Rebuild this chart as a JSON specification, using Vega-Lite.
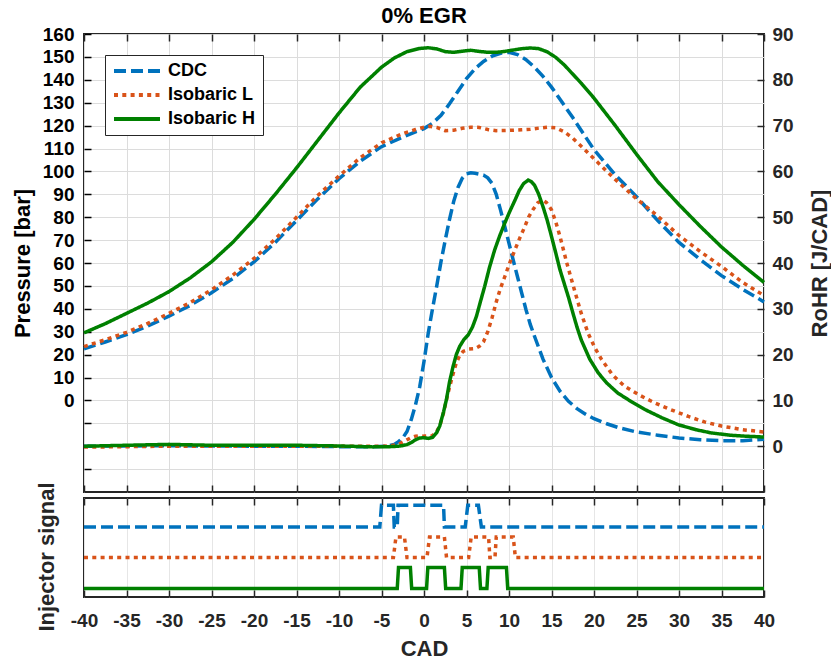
{
"$schema": "https://vega.github.io/schema/vega-lite/v6.json",
"padding": {"left": 10, "top": 5, "right": 0, "bottom": 0},
"background": "white",
"title": {"text": "0% EGR", "fontSize": 22, "font": "Liberation Sans", "fontWeight": "bold", "color": "#000000", "anchor": "middle", "frame": "group", "offset": -4},
"datasets": {
"pressure": [
{"s":"CDC","x":-40,"y":22.5},{"s":"CDC","x":-37.5,"y":25.5},{"s":"CDC","x":-35,"y":28.7},{"s":"CDC","x":-32.5,"y":32.5},{"s":"CDC","x":-30,"y":36.8},{"s":"CDC","x":-27.5,"y":41.5},{"s":"CDC","x":-25,"y":47},{"s":"CDC","x":-22.5,"y":53.2},{"s":"CDC","x":-20,"y":60.5},{"s":"CDC","x":-17.5,"y":69},{"s":"CDC","x":-15,"y":78.5},{"s":"CDC","x":-12.5,"y":88},{"s":"CDC","x":-10,"y":96.8},{"s":"CDC","x":-7.5,"y":104.5},{"s":"CDC","x":-5,"y":110.8},{"s":"CDC","x":-2.5,"y":115},{"s":"CDC","x":-1,"y":117.3},{"s":"CDC","x":0,"y":118.7},{"s":"CDC","x":1,"y":121},{"s":"CDC","x":2,"y":124.5},{"s":"CDC","x":3,"y":129.5},{"s":"CDC","x":4,"y":135},{"s":"CDC","x":5,"y":140.5},{"s":"CDC","x":6,"y":144.8},{"s":"CDC","x":7,"y":148},{"s":"CDC","x":8,"y":150.3},{"s":"CDC","x":9,"y":151.6},{"s":"CDC","x":10,"y":152},{"s":"CDC","x":11,"y":151},{"s":"CDC","x":12,"y":148.8},{"s":"CDC","x":13,"y":145.5},{"s":"CDC","x":14,"y":141.5},{"s":"CDC","x":15,"y":136.8},{"s":"CDC","x":16,"y":131.5},{"s":"CDC","x":17.5,"y":123.5},{"s":"CDC","x":20,"y":109.5},{"s":"CDC","x":22.5,"y":98.5},{"s":"CDC","x":25,"y":89},{"s":"CDC","x":27.5,"y":78.5},{"s":"CDC","x":30,"y":69},{"s":"CDC","x":32.5,"y":61.5},{"s":"CDC","x":35,"y":54.5},{"s":"CDC","x":37.5,"y":48.5},{"s":"CDC","x":40,"y":43},
{"s":"Isobaric L","x":-40,"y":23.5},{"s":"Isobaric L","x":-37.5,"y":26.5},{"s":"Isobaric L","x":-35,"y":29.7},{"s":"Isobaric L","x":-32.5,"y":33.6},{"s":"Isobaric L","x":-30,"y":38},{"s":"Isobaric L","x":-27.5,"y":42.7},{"s":"Isobaric L","x":-25,"y":48.3},{"s":"Isobaric L","x":-22.5,"y":54.7},{"s":"Isobaric L","x":-20,"y":62},{"s":"Isobaric L","x":-17.5,"y":70.5},{"s":"Isobaric L","x":-15,"y":80},{"s":"Isobaric L","x":-12.5,"y":89.5},{"s":"Isobaric L","x":-10,"y":98},{"s":"Isobaric L","x":-7.5,"y":106},{"s":"Isobaric L","x":-5,"y":112.5},{"s":"Isobaric L","x":-2.5,"y":116.5},{"s":"Isobaric L","x":-1,"y":118.3},{"s":"Isobaric L","x":0,"y":119.3},{"s":"Isobaric L","x":0.7,"y":119.7},{"s":"Isobaric L","x":1.5,"y":119.2},{"s":"Isobaric L","x":2.5,"y":117.8},{"s":"Isobaric L","x":3.5,"y":118},{"s":"Isobaric L","x":4.5,"y":118.8},{"s":"Isobaric L","x":5.5,"y":119.3},{"s":"Isobaric L","x":6.5,"y":119.2},{"s":"Isobaric L","x":7.5,"y":118.3},{"s":"Isobaric L","x":8.5,"y":117.8},{"s":"Isobaric L","x":10,"y":117.9},{"s":"Isobaric L","x":11.5,"y":118.2},{"s":"Isobaric L","x":12.5,"y":118.4},{"s":"Isobaric L","x":13.5,"y":118.9},{"s":"Isobaric L","x":14.5,"y":119.3},{"s":"Isobaric L","x":15.5,"y":119},{"s":"Isobaric L","x":16.5,"y":117.3},{"s":"Isobaric L","x":17.5,"y":114.5},{"s":"Isobaric L","x":18.5,"y":111},{"s":"Isobaric L","x":20,"y":105.5},{"s":"Isobaric L","x":22.5,"y":96.5},{"s":"Isobaric L","x":25,"y":88},{"s":"Isobaric L","x":27.5,"y":80.5},{"s":"Isobaric L","x":30,"y":72},{"s":"Isobaric L","x":32.5,"y":65},{"s":"Isobaric L","x":35,"y":58.5},{"s":"Isobaric L","x":37.5,"y":51.5},{"s":"Isobaric L","x":40,"y":45.8},
{"s":"Isobaric H","x":-40,"y":29.5},{"s":"Isobaric H","x":-37.5,"y":33.5},{"s":"Isobaric H","x":-35,"y":38},{"s":"Isobaric H","x":-32.5,"y":42.5},{"s":"Isobaric H","x":-30,"y":47.5},{"s":"Isobaric H","x":-27.5,"y":53.5},{"s":"Isobaric H","x":-25,"y":60.5},{"s":"Isobaric H","x":-22.5,"y":69},{"s":"Isobaric H","x":-20,"y":79},{"s":"Isobaric H","x":-17.5,"y":90},{"s":"Isobaric H","x":-15,"y":101.5},{"s":"Isobaric H","x":-12.5,"y":113.5},{"s":"Isobaric H","x":-10,"y":125.5},{"s":"Isobaric H","x":-7.5,"y":136.8},{"s":"Isobaric H","x":-5,"y":145.5},{"s":"Isobaric H","x":-3.5,"y":149.5},{"s":"Isobaric H","x":-2,"y":152.3},{"s":"Isobaric H","x":-0.5,"y":153.7},{"s":"Isobaric H","x":0.5,"y":154},{"s":"Isobaric H","x":1.5,"y":153.5},{"s":"Isobaric H","x":2.5,"y":152.3},{"s":"Isobaric H","x":3.5,"y":152},{"s":"Isobaric H","x":4.5,"y":152.5},{"s":"Isobaric H","x":5.5,"y":152.9},{"s":"Isobaric H","x":6.5,"y":152.4},{"s":"Isobaric H","x":7.5,"y":152},{"s":"Isobaric H","x":8.5,"y":152},{"s":"Isobaric H","x":9.5,"y":152.4},{"s":"Isobaric H","x":10.5,"y":153},{"s":"Isobaric H","x":11.5,"y":153.6},{"s":"Isobaric H","x":12.5,"y":153.9},{"s":"Isobaric H","x":13.5,"y":153.6},{"s":"Isobaric H","x":14.5,"y":152.2},{"s":"Isobaric H","x":15.5,"y":149.8},{"s":"Isobaric H","x":16.5,"y":146.5},{"s":"Isobaric H","x":17.5,"y":142.5},{"s":"Isobaric H","x":18.5,"y":138.5},{"s":"Isobaric H","x":20,"y":132},{"s":"Isobaric H","x":22.5,"y":120},{"s":"Isobaric H","x":25,"y":107.5},{"s":"Isobaric H","x":27.5,"y":95.5},{"s":"Isobaric H","x":30,"y":85.5},{"s":"Isobaric H","x":32.5,"y":76},{"s":"Isobaric H","x":35,"y":67},{"s":"Isobaric H","x":37.5,"y":59},{"s":"Isobaric H","x":40,"y":51.5}
],
"rohr": [
{"s":"CDC","x":-40,"y":0},{"s":"CDC","x":-35,"y":0.05},{"s":"CDC","x":-30,"y":0.1},{"s":"CDC","x":-25,"y":0.05},{"s":"CDC","x":-20,"y":0},{"s":"CDC","x":-15,"y":0},{"s":"CDC","x":-10,"y":-0.1},{"s":"CDC","x":-6,"y":-0.1},{"s":"CDC","x":-4.5,"y":0},{"s":"CDC","x":-4,"y":0.15},{"s":"CDC","x":-3.5,"y":0.4},{"s":"CDC","x":-3,"y":1},{"s":"CDC","x":-2.5,"y":1.8},{"s":"CDC","x":-2,"y":3.2},{"s":"CDC","x":-1.5,"y":5.8},{"s":"CDC","x":-1,"y":9},{"s":"CDC","x":-0.5,"y":13},{"s":"CDC","x":0,"y":18.5},{"s":"CDC","x":0.5,"y":24.7},{"s":"CDC","x":1,"y":30},{"s":"CDC","x":1.5,"y":35},{"s":"CDC","x":2,"y":40.3},{"s":"CDC","x":2.5,"y":45},{"s":"CDC","x":3,"y":49.5},{"s":"CDC","x":3.5,"y":53.5},{"s":"CDC","x":4,"y":56.5},{"s":"CDC","x":4.5,"y":58.5},{"s":"CDC","x":5,"y":59.5},{"s":"CDC","x":5.5,"y":59.7},{"s":"CDC","x":6,"y":59.6},{"s":"CDC","x":6.5,"y":59.4},{"s":"CDC","x":7,"y":59.2},{"s":"CDC","x":7.5,"y":58.6},{"s":"CDC","x":8,"y":57.4},{"s":"CDC","x":8.5,"y":55},{"s":"CDC","x":9,"y":51.6},{"s":"CDC","x":9.5,"y":48},{"s":"CDC","x":10,"y":44.3},{"s":"CDC","x":10.5,"y":40.6},{"s":"CDC","x":11,"y":37},{"s":"CDC","x":11.5,"y":33.4},{"s":"CDC","x":12,"y":29.8},{"s":"CDC","x":12.5,"y":26.6},{"s":"CDC","x":13,"y":24},{"s":"CDC","x":14,"y":19},{"s":"CDC","x":15,"y":15},{"s":"CDC","x":16,"y":12},{"s":"CDC","x":17,"y":9.8},{"s":"CDC","x":18,"y":8.2},{"s":"CDC","x":19,"y":7},{"s":"CDC","x":20,"y":6},{"s":"CDC","x":21.5,"y":4.9},{"s":"CDC","x":23,"y":4},{"s":"CDC","x":25,"y":3.1},{"s":"CDC","x":27.5,"y":2.4},{"s":"CDC","x":30,"y":1.8},{"s":"CDC","x":32.5,"y":1.4},{"s":"CDC","x":35,"y":1.2},{"s":"CDC","x":37.5,"y":1.2},{"s":"CDC","x":40,"y":1.5},
{"s":"Isobaric L","x":-40,"y":-0.2},{"s":"Isobaric L","x":-35,"y":-0.1},{"s":"Isobaric L","x":-30,"y":0},{"s":"Isobaric L","x":-25,"y":0},{"s":"Isobaric L","x":-20,"y":0},{"s":"Isobaric L","x":-15,"y":0},{"s":"Isobaric L","x":-10,"y":0},{"s":"Isobaric L","x":-5,"y":0},{"s":"Isobaric L","x":-4,"y":0.05},{"s":"Isobaric L","x":-3,"y":0.4},{"s":"Isobaric L","x":-2.5,"y":0.9},{"s":"Isobaric L","x":-2,"y":1.4},{"s":"Isobaric L","x":-1.5,"y":1.9},{"s":"Isobaric L","x":-1,"y":2.2},{"s":"Isobaric L","x":-0.5,"y":2.3},{"s":"Isobaric L","x":0,"y":2.2},{"s":"Isobaric L","x":0.9,"y":2.2},{"s":"Isobaric L","x":1.4,"y":2.9},{"s":"Isobaric L","x":1.85,"y":4.4},{"s":"Isobaric L","x":2.3,"y":7.3},{"s":"Isobaric L","x":2.8,"y":11.4},{"s":"Isobaric L","x":3.3,"y":15},{"s":"Isobaric L","x":3.8,"y":18.2},{"s":"Isobaric L","x":4.2,"y":19.8},{"s":"Isobaric L","x":4.6,"y":20.7},{"s":"Isobaric L","x":5.3,"y":21.2},{"s":"Isobaric L","x":6,"y":21.3},{"s":"Isobaric L","x":6.5,"y":21.8},{"s":"Isobaric L","x":7,"y":22.8},{"s":"Isobaric L","x":7.5,"y":25},{"s":"Isobaric L","x":8,"y":28},{"s":"Isobaric L","x":8.5,"y":31.5},{"s":"Isobaric L","x":9,"y":34.5},{"s":"Isobaric L","x":9.5,"y":37},{"s":"Isobaric L","x":10,"y":39.6},{"s":"Isobaric L","x":10.7,"y":42.9},{"s":"Isobaric L","x":11.3,"y":45.6},{"s":"Isobaric L","x":11.85,"y":47.9},{"s":"Isobaric L","x":12.3,"y":50},{"s":"Isobaric L","x":12.8,"y":51.6},{"s":"Isobaric L","x":13.4,"y":53.2},{"s":"Isobaric L","x":14,"y":53.7},{"s":"Isobaric L","x":14.4,"y":53.2},{"s":"Isobaric L","x":15,"y":51.6},{"s":"Isobaric L","x":15.5,"y":49},{"s":"Isobaric L","x":16,"y":45.8},{"s":"Isobaric L","x":16.8,"y":40},{"s":"Isobaric L","x":17.7,"y":34.1},{"s":"Isobaric L","x":18.5,"y":29},{"s":"Isobaric L","x":19.3,"y":24.7},{"s":"Isobaric L","x":20.1,"y":21.5},{"s":"Isobaric L","x":20.9,"y":18.9},{"s":"Isobaric L","x":22.2,"y":15.5},{"s":"Isobaric L","x":23.6,"y":13.1},{"s":"Isobaric L","x":25.5,"y":11},{"s":"Isobaric L","x":27.1,"y":9.5},{"s":"Isobaric L","x":29,"y":8},{"s":"Isobaric L","x":31.1,"y":6.5},{"s":"Isobaric L","x":33,"y":5.3},{"s":"Isobaric L","x":35,"y":4.4},{"s":"Isobaric L","x":37.5,"y":3.6},{"s":"Isobaric L","x":40,"y":3.1},
{"s":"Isobaric H","x":-40,"y":0},{"s":"Isobaric H","x":-35,"y":0.2},{"s":"Isobaric H","x":-30,"y":0.4},{"s":"Isobaric H","x":-25,"y":0.2},{"s":"Isobaric H","x":-20,"y":0.2},{"s":"Isobaric H","x":-15,"y":0.2},{"s":"Isobaric H","x":-10,"y":0.05},{"s":"Isobaric H","x":-6,"y":-0.15},{"s":"Isobaric H","x":-4,"y":-0.1},{"s":"Isobaric H","x":-3,"y":0},{"s":"Isobaric H","x":-2.5,"y":0.15},{"s":"Isobaric H","x":-2,"y":0.35},{"s":"Isobaric H","x":-1.5,"y":0.8},{"s":"Isobaric H","x":-1,"y":1.4},{"s":"Isobaric H","x":-0.5,"y":1.8},{"s":"Isobaric H","x":0,"y":1.85},{"s":"Isobaric H","x":0.5,"y":1.7},{"s":"Isobaric H","x":1,"y":1.9},{"s":"Isobaric H","x":1.5,"y":3},{"s":"Isobaric H","x":1.85,"y":4.4},{"s":"Isobaric H","x":2.3,"y":7.5},{"s":"Isobaric H","x":2.64,"y":10.2},{"s":"Isobaric H","x":3,"y":14},{"s":"Isobaric H","x":3.42,"y":17.4},{"s":"Isobaric H","x":3.8,"y":20},{"s":"Isobaric H","x":4.2,"y":21.8},{"s":"Isobaric H","x":4.7,"y":23.3},{"s":"Isobaric H","x":5.2,"y":24.3},{"s":"Isobaric H","x":5.7,"y":26},{"s":"Isobaric H","x":6.16,"y":28.3},{"s":"Isobaric H","x":6.6,"y":31.3},{"s":"Isobaric H","x":7.14,"y":34.9},{"s":"Isobaric H","x":7.7,"y":39},{"s":"Isobaric H","x":8.32,"y":42.9},{"s":"Isobaric H","x":8.9,"y":45.9},{"s":"Isobaric H","x":9.5,"y":48.7},{"s":"Isobaric H","x":10.1,"y":51.3},{"s":"Isobaric H","x":10.7,"y":53.7},{"s":"Isobaric H","x":11.2,"y":55.8},{"s":"Isobaric H","x":11.7,"y":57.3},{"s":"Isobaric H","x":12.25,"y":58.1},{"s":"Isobaric H","x":12.6,"y":57.8},{"s":"Isobaric H","x":13,"y":57},{"s":"Isobaric H","x":13.5,"y":55},{"s":"Isobaric H","x":14,"y":52.3},{"s":"Isobaric H","x":14.5,"y":49.3},{"s":"Isobaric H","x":15,"y":45.8},{"s":"Isobaric H","x":15.5,"y":42.2},{"s":"Isobaric H","x":16,"y":38.5},{"s":"Isobaric H","x":16.5,"y":35.5},{"s":"Isobaric H","x":17,"y":32.5},{"s":"Isobaric H","x":17.5,"y":29.2},{"s":"Isobaric H","x":18,"y":26},{"s":"Isobaric H","x":18.5,"y":23.2},{"s":"Isobaric H","x":19.5,"y":19},{"s":"Isobaric H","x":20.5,"y":16},{"s":"Isobaric H","x":21.5,"y":13.8},{"s":"Isobaric H","x":22.8,"y":11.6},{"s":"Isobaric H","x":24.5,"y":9.6},{"s":"Isobaric H","x":26,"y":8},{"s":"Isobaric H","x":28,"y":6.2},{"s":"Isobaric H","x":29.9,"y":4.7},{"s":"Isobaric H","x":32,"y":3.6},{"s":"Isobaric H","x":33.8,"y":2.9},{"s":"Isobaric H","x":36,"y":2.4},{"s":"Isobaric H","x":37.7,"y":2.2},{"s":"Isobaric H","x":40,"y":2.0}
],
"inj": [
{"s":"CDC","x":-40,"y":0.707},{"s":"CDC","x":-5.2,"y":0.707},{"s":"CDC","x":-5.0,"y":0.926},{"s":"CDC","x":-3.6,"y":0.926},{"s":"CDC","x":-3.5,"y":0.707},{"s":"CDC","x":-3.15,"y":0.707},{"s":"CDC","x":-3.05,"y":0.926},{"s":"CDC","x":2.3,"y":0.926},{"s":"CDC","x":2.4,"y":0.707},{"s":"CDC","x":4.85,"y":0.707},{"s":"CDC","x":5.15,"y":0.926},{"s":"CDC","x":6.4,"y":0.926},{"s":"CDC","x":6.75,"y":0.707},{"s":"CDC","x":40,"y":0.707},
{"s":"Isobaric L","x":-40,"y":0.398},{"s":"Isobaric L","x":-3.6,"y":0.398},{"s":"Isobaric L","x":-3.3,"y":0.606},{"s":"Isobaric L","x":-2.3,"y":0.606},{"s":"Isobaric L","x":-2.0,"y":0.398},{"s":"Isobaric L","x":0.35,"y":0.398},{"s":"Isobaric L","x":0.65,"y":0.606},{"s":"Isobaric L","x":2.4,"y":0.606},{"s":"Isobaric L","x":2.65,"y":0.398},{"s":"Isobaric L","x":5.25,"y":0.398},{"s":"Isobaric L","x":5.55,"y":0.606},{"s":"Isobaric L","x":7.6,"y":0.606},{"s":"Isobaric L","x":7.75,"y":0.398},{"s":"Isobaric L","x":8.35,"y":0.398},{"s":"Isobaric L","x":8.5,"y":0.606},{"s":"Isobaric L","x":10.5,"y":0.606},{"s":"Isobaric L","x":10.75,"y":0.398},{"s":"Isobaric L","x":40,"y":0.398},
{"s":"Isobaric H","x":-40,"y":0.085},{"s":"Isobaric H","x":-3.15,"y":0.085},{"s":"Isobaric H","x":-3.0,"y":0.297},{"s":"Isobaric H","x":-1.6,"y":0.297},{"s":"Isobaric H","x":-1.45,"y":0.085},{"s":"Isobaric H","x":0.3,"y":0.085},{"s":"Isobaric H","x":0.45,"y":0.297},{"s":"Isobaric H","x":2.4,"y":0.297},{"s":"Isobaric H","x":2.55,"y":0.085},{"s":"Isobaric H","x":4.35,"y":0.085},{"s":"Isobaric H","x":4.5,"y":0.297},{"s":"Isobaric H","x":6.5,"y":0.297},{"s":"Isobaric H","x":6.65,"y":0.085},{"s":"Isobaric H","x":7.4,"y":0.085},{"s":"Isobaric H","x":7.55,"y":0.297},{"s":"Isobaric H","x":9.7,"y":0.297},{"s":"Isobaric H","x":9.85,"y":0.085},{"s":"Isobaric H","x":40,"y":0.085}
]
},
"vconcat": [
{
"width": 680, "height": 458,
"layer": [
{
"data": {"name": "pressure"},
"mark": {"type": "line", "strokeWidth": 3.5},
"encoding": {
"x": {"field": "x", "type": "quantitative", "scale": {"domain": [-40, 40], "nice": false, "zero": false}, "axis": {"orient": "bottom", "values": [-40,-35,-30,-25,-20,-15,-10,-5,0,5,10,15,20,25,30,35,40], "labels": false, "title": null, "grid": true}},
"y": {"field": "y", "type": "quantitative", "scale": {"domain": [-40, 160], "nice": false, "zero": false}, "axis": {"orient": "left", "values": [-30,-20,-10,0,10,20,30,40,50,60,70,80,90,100,110,120,130,140,150,160], "title": "Pressure [bar]", "labelExpr": "datum.value >= 0 ? datum.value + '' : ''", "grid": true, "labelPadding": 17, "labelColor": "#000000", "titleColor": "#000000", "tickColor": "#000000", "titleX": -61.5, "titleBaseline": "middle", "titleAngle": -90, "labelFontSize": 19}},
"color": {"field": "s", "type": "nominal", "scale": {"domain": ["CDC", "Isobaric L", "Isobaric H"], "range": ["#0072BD", "#D95319", "#008000"]}, "legend": {"title": null, "orient": "none", "legendX": 21, "legendY": 21}},
"strokeDash": {"field": "s", "type": "nominal", "scale": {"domain": ["CDC", "Isobaric L", "Isobaric H"], "range": [[12, 5], [4, 4.3], [1, 0]]}, "legend": {"title": null, "orient": "none", "legendX": 21, "legendY": 21}}
}
},
{
"data": {"name": "rohr"},
"mark": {"type": "line", "strokeWidth": 3.5},
"encoding": {
"x": {"field": "x", "type": "quantitative", "scale": {"domain": [-40, 40], "nice": false, "zero": false}, "axis": {"orient": "top", "values": [-40,-35,-30,-25,-20,-15,-10,-5,0,5,10,15,20,25,30,35,40], "labels": false, "title": null, "grid": false}},
"y": {"field": "y", "type": "quantitative", "scale": {"domain": [-10, 90], "nice": false, "zero": false}, "axis": {"orient": "right", "values": [0,10,20,30,40,50,60,70,80,90], "title": "RoHR [J/CAD]", "labelExpr": "datum.value + ''", "grid": false, "labelPadding": 15, "titleX": 55, "titleAngle": -90, "titleBaseline": "middle"}},
"color": {"field": "s", "type": "nominal", "scale": {"domain": ["CDC", "Isobaric L", "Isobaric H"], "range": ["#0072BD", "#D95319", "#008000"]}, "legend": {"title": null, "orient": "none", "legendX": 21, "legendY": 21}},
"strokeDash": {"field": "s", "type": "nominal", "scale": {"domain": ["CDC", "Isobaric L", "Isobaric H"], "range": [[12, 5], [4, 4.3], [1, 0]]}, "legend": {"title": null, "orient": "none", "legendX": 21, "legendY": 21}}
}
}
],
"resolve": {"scale": {"y": "independent"}, "axis": {"x": "independent"}}
},
{
"width": 680, "height": 99,
"data": {"name": "inj"},
"encoding": {
"y": {"field": "y", "type": "quantitative", "scale": {"domain": [0, 1], "nice": false, "zero": false}, "axis": {"orient": "left", "title": "Injector signal", "labels": false, "ticks": false, "grid": false, "values": [0.5], "titleX": -37.5, "titleY": 58.5, "titleBaseline": "middle", "titleAngle": -90}},
"color": {"field": "s", "type": "nominal", "scale": {"domain": ["CDC", "Isobaric L", "Isobaric H"], "range": ["#0072BD", "#D95319", "#008000"]}, "legend": null},
"strokeDash": {"field": "s", "type": "nominal", "scale": {"domain": ["CDC", "Isobaric L", "Isobaric H"], "range": [[12, 5], [4, 4.3], [1, 0]]}, "legend": null}
},
"layer": [
{
"transform": [{"filter": "datum.s !== 'Isobaric H'"}],
"mark": {"type": "line", "strokeWidth": 3.5},
"encoding": {
"x": {"field": "x", "type": "quantitative", "scale": {"domain": [-40, 40], "nice": false, "zero": false}, "axis": {"orient": "bottom", "values": [-40,-35,-30,-25,-20,-15,-10,-5,0,5,10,15,20,25,30,35,40], "labelExpr": "datum.value + ''", "labelFlush": false, "title": "CAD", "grid": true, "gridColor": "#e6e6e6", "labelPadding": 21, "titleY": 51, "titleBaseline": "middle"}}
}
},
{
"transform": [{"filter": "datum.s === 'Isobaric H'"}],
"mark": {"type": "line", "strokeWidth": 3.5},
"encoding": {
"x": {"field": "x", "type": "quantitative", "scale": {"domain": [-40, 40], "nice": false, "zero": false}, "axis": {"orient": "top", "values": [-40,-35,-30,-25,-20,-15,-10,-5,0,5,10,15,20,25,30,35,40], "labels": false, "title": null, "grid": false}}
}
}
],
"resolve": {"axis": {"x": "independent"}}
}
],
"resolve": {"scale": {"color": "independent", "strokeDash": "independent"}, "legend": {"color": "independent", "strokeDash": "independent"}},
"bounds": "flush",
"spacing": 6,
"config": {
"font": "Liberation Sans",
"view": {"stroke": "#262626", "strokeWidth": 2},
"axis": {"labelFont": "Liberation Sans", "labelFontWeight": "bold", "labelFontSize": 19, "labelColor": "#262626", "titleFont": "Liberation Sans", "titleFontWeight": "bold", "titleFontSize": 22, "titleColor": "#262626", "tickColor": "#262626", "tickWidth": 1.5, "tickSize": -7, "domain": false, "gridColor": "#dcdcdc", "gridWidth": 1, "labelOverlap": false, "labelFlush": false},
"legend": {"symbolType": "stroke", "symbolSize": 2116, "symbolStrokeWidth": 4, "labelFont": "Liberation Sans", "labelFontSize": 18, "labelFontWeight": "bold", "labelColor": "#000000", "padding": 7, "strokeColor": "#262626", "fillColor": "white", "rowPadding": 6, "labelOffset": 6, "clipHeight": 18}
}
}
